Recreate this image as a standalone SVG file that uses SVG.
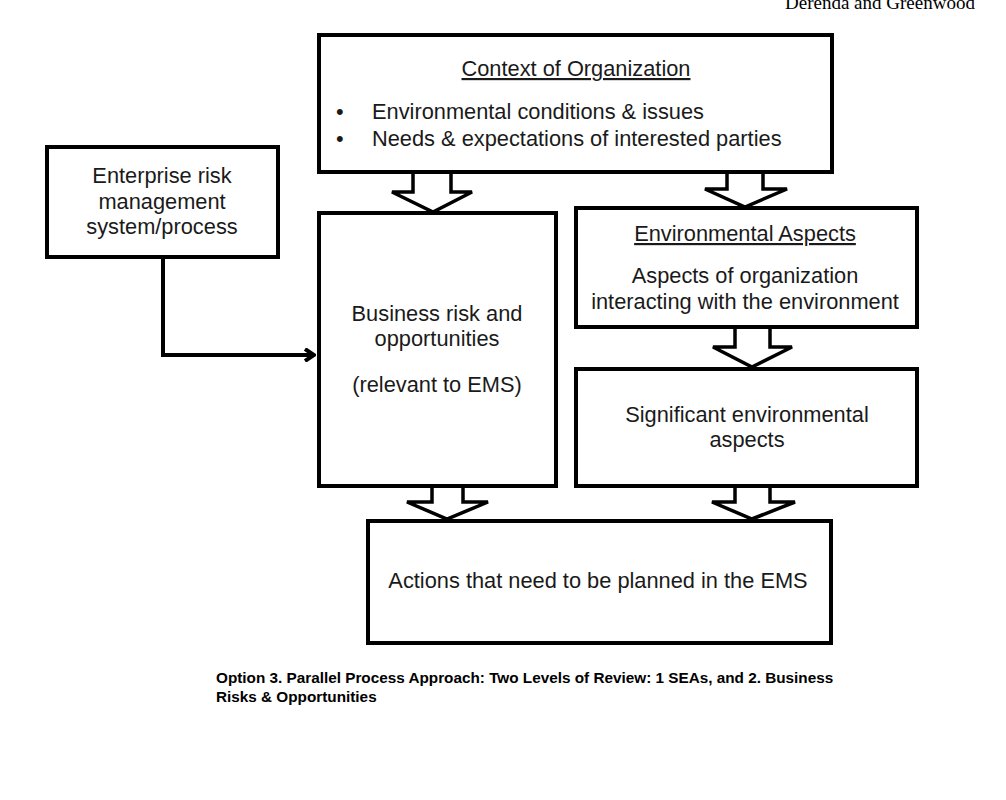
<svg xmlns="http://www.w3.org/2000/svg" width="1006" height="800" viewBox="0 0 1006 800">
<style>
.box{fill:#fff;stroke:#000;stroke-width:4}
.blk{fill:#fff;stroke:#000;stroke-width:3.5;stroke-linejoin:miter}
.t{font-family:"Liberation Sans",Arial,sans-serif;font-size:21.8px;fill:#1a1a1a;text-anchor:middle}
.l{text-anchor:start}
.u{text-decoration:underline}
.cap{font-family:"Liberation Sans",Arial,sans-serif;font-size:15.3px;font-weight:bold;fill:#000}
.hdr{font-family:"Liberation Serif","Times New Roman",serif;font-size:19px;fill:#000}
</style>
<defs>
<marker id="chev" markerWidth="12" markerHeight="14" refX="10" refY="7" orient="auto" markerUnits="userSpaceOnUse">
<path d="M1,1 L10,7 L1,13" fill="none" stroke="#000" stroke-width="4"/>
</marker>
</defs>
<rect width="1006" height="800" fill="#fff"/>
<text class="hdr" x="785" y="9">Derenda and Greenwood</text>

<g id="connectors">
<path d="M163,257 V355 H314" fill="none" stroke="#000" stroke-width="4" marker-end="url(#chev)"/>
<polygon class="blk" points="413,172 451,172 451,192 472,192 433,212 392,192 413,192"/>
<polygon class="blk" points="727,172 763,172 763,189 787,189 745,207 705,189 727,189"/>
<polygon class="blk" points="735,327 770,327 770,347 792,347 752,367 713,347 735,347"/>
<polygon class="blk" points="432,486 463,486 463,502 488,502 447,519 407,502 432,502"/>
<polygon class="blk" points="735,486 770,486 770,502 795,502 752,519 712,502 735,502"/>
</g>

<g id="context">
<rect class="box" x="319" y="35" width="513" height="137"/>
<text class="t u" x="576" y="76">Context of Organization</text>
<text class="t l" x="336" y="119">•</text>
<text class="t l" x="372" y="119">Environmental conditions &amp; issues</text>
<text class="t l" x="336" y="146">•</text>
<text class="t l" x="372" y="146">Needs &amp; expectations of interested parties</text>
</g>

<g id="enterprise">
<rect class="box" x="47" y="147" width="231" height="110"/>
<text class="t" x="162" y="183">Enterprise risk</text>
<text class="t" x="162" y="209">management</text>
<text class="t" x="162" y="234">system/process</text>
</g>

<g id="business">
<rect class="box" x="319" y="213" width="237" height="273"/>
<text class="t" x="437" y="321">Business risk and</text>
<text class="t" x="437" y="346">opportunities</text>
<text class="t" x="437" y="392">(relevant to EMS)</text>
</g>

<g id="envaspects">
<rect class="box" x="576" y="208" width="341" height="119"/>
<text class="t u" x="745" y="241">Environmental Aspects</text>
<text class="t" x="745" y="283">Aspects of organization</text>
<text class="t" x="745" y="309">interacting with the environment</text>
</g>

<g id="significant">
<rect class="box" x="576" y="369" width="341" height="117"/>
<text class="t" x="747" y="422">Significant environmental</text>
<text class="t" x="747" y="447">aspects</text>
</g>

<g id="actions">
<rect class="box" x="368" y="521" width="463" height="122"/>
<text class="t" x="598" y="588">Actions that need to be planned in the EMS</text>
</g>

<text class="cap" x="216" y="683">Option 3. Parallel Process Approach:  Two Levels of Review: 1 SEAs, and 2. Business</text>
<text class="cap" x="216" y="702">Risks &amp; Opportunities</text>
</svg>
